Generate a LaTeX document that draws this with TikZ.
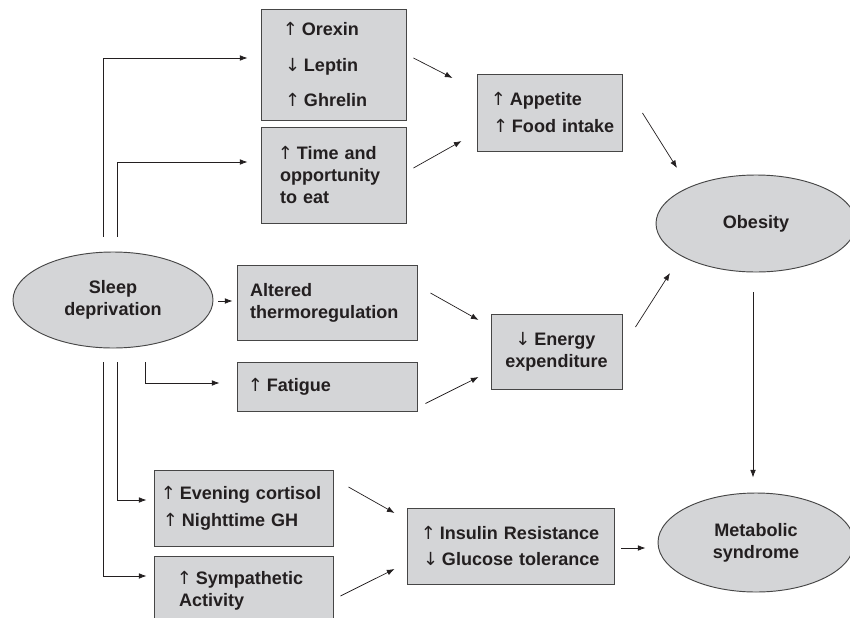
\documentclass[tikz,border=0pt]{standalone}
\usepackage{fontspec}
\setmainfont{Liberation Sans}
\newfontfamily\arrowfont{DejaVu Sans}
\usetikzlibrary{
    shapes.geometric,
    arrows.meta,
    calc
}
\definecolor{boxgray}{RGB}{212,213,215}
\definecolor{edgegray}{RGB}{70,70,70}
\definecolor{inkgray}{RGB}{35,31,32}
\newcommand{\ua}{{\arrowfont\mdseries\kern-0.12em↑\kern-0.12em}~}
\newcommand{\da}{{\arrowfont\mdseries\kern-0.12em↓\kern-0.12em}~}
\hyphenpenalty=10000
\exhyphenpenalty=10000

\begin{document}
\begin{tikzpicture}[
    x=0.03cm, y=-0.03cm,
    font=\bfseries\fontsize{15.4}{18.8}\selectfont,
    box/.style={rectangle, draw=edgegray, line width=0.8pt, fill=boxgray,
                text=inkgray, align=left, inner ysep=0pt},
    oval/.style={ellipse, draw=edgegray, line width=0.8pt, fill=boxgray,
                 text=inkgray, align=center, inner sep=0pt},
    link/.style={-{Latex[length=2.3mm, width=1.7mm]}, line width=0.6pt, inkgray}
]
    \useasboundingbox (0,0) rectangle (850,617);

    % Cause
    \node (sleep) [oval, minimum width=6cm, minimum height=2.88cm] at (113,300) {Sleep\\deprivation};

    % Appetite branch
    \node (hormones) [box, text width=2.91cm, inner xsep=0.72cm, minimum height=3.33cm] at (333.5,64.5)
        {\ua Orexin\\[13pt]\da Leptin\\[13pt]\ua Ghrelin};
    \node (time) [box, text width=3.21cm, inner xsep=0.57cm, minimum height=2.88cm] at (333.5,175)
        {\ua Time~and\\opportunity\\to~eat};
    \node (appetite) [box, text width=3.39cm, inner xsep=0.48cm, minimum height=2.31cm] at (549.5,112.5)
        {\ua Appetite\\[6pt]\ua Food~intake};

    % Energy branch
    \node (thermo) [box, text width=4.62cm, inner xsep=0.39cm, minimum height=2.25cm] at (327,302.5)
        {Altered\\thermoregulation};
    \node (fatigue) [box, text width=4.62cm, inner xsep=0.39cm, minimum height=1.47cm] at (327,386.5)
        {\ua Fatigue};
    \node (energy) [box, align=center, text width=3.33cm, inner xsep=0.3cm, minimum height=2.25cm] at (556.5,351.5)
        {\da Energy\\expenditure};

    % Glucose branch
    \node (evening) [box, text width=4.83cm, inner xsep=0.27cm, minimum height=2.28cm] at (243.5,508)
        {\ua Evening~cortisol\\[6pt]\ua Nighttime~GH};
    \node (symp) [box, text width=3.87cm, inner xsep=0.75cm, minimum height=2.1cm] at (243.5,591)
        {\ua Sympathetic\\Activity};
    \node (insulin) [box, text width=5.25cm, inner xsep=0.48cm, minimum height=2.28cm] at (510.5,546)
        {\ua Insulin~Resistance\\[5pt]\da Glucose~tolerance};

    % Outcomes
    \node (obesity) [oval, minimum width=6cm, minimum height=2.91cm] at (756,223.5) {Obesity};
    \node (metabolic) [oval, minimum width=5.88cm, minimum height=2.97cm] at (756,542.5) {Metabolic\\syndrome};

    % Connections from sleep deprivation
    \draw [link] ([shift={(-10,-15)}]sleep.north) |- ([shift={(-13,-6.5)}]hormones.west);
    \draw [link] ([shift={(4,-15)}]sleep.north) |- ([shift={(-13,-13)}]time.west);
    \draw [link] ([shift={(5,1)}]sleep.east) -- ([shift={(-4,-1.5)}]thermo.west);
    \draw [link] ([shift={(32,14)}]sleep.south) |- ([shift={(-17,-3.5)}]fatigue.west);
    \draw [link] ([shift={(4,14)}]sleep.south) |- ([shift={(-7,-8)}]evening.west);
    \draw [link] ([shift={(-10,14)}]sleep.south) |- ([shift={(-7,-15)}]symp.west);

    % Connections to outcomes
    \draw [link] ([shift={(7,-6.5)}]hormones.east) -- ([shift={(-24,-34.5)}]appetite.west);
    \draw [link] ([shift={(7,-7)}]time.east) -- ([shift={(-15,28.5)}]appetite.west);
    \draw [link] ([shift={(20,0.5)}]appetite.east) -- ([shift={(-79,-55.5)}]obesity.center);
    \draw [link] ([shift={(13,-9.5)}]thermo.east) -- ([shift={(-12,-31.5)}]energy.west);
    \draw [link] ([shift={(8,17)}]fatigue.east) -- ([shift={(-12,25.5)}]energy.west);
    \draw [link] ([shift={(13,-24.5)}]energy.east) -- ([shift={(-86,49.5)}]obesity.center);
    \draw [link] ([shift={(-3,20)}]obesity.south) -- ([shift={(-3,-15)}]metabolic.north);
    \draw [link] ([shift={(15,-21)}]evening.east) -- ([shift={(-12,-33)}]insulin.west);
    \draw [link] ([shift={(7,5)}]symp.east) -- ([shift={(-12,23)}]insulin.west);
    \draw [link] ([shift={(7,2)}]insulin.east) -- ([shift={(-12,5.5)}]metabolic.west);

\end{tikzpicture}
\end{document}
